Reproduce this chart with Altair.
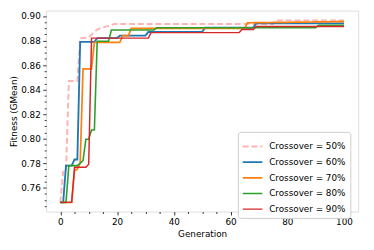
import altair as alt
import pandas as pd

series = ["Crossover = 50%", "Crossover = 60%", "Crossover = 70%",
          "Crossover = 80%", "Crossover = 90%"]
colors = ["#ffb3b3", "#1f77b4", "#ff7f0e", "#2ca02c", "#d62728"]
dashes = [[6, 3], [1, 0], [1, 0], [1, 0], [1, 0]]
widths = [2.0, 1.5, 1.5, 1.5, 1.5]

gen50 = [0, 1, 2, 3, 6, 7, 10, 11, 13, 14, 17, 19, 75, 76, 100]
val50 = [0.748, 0.773, 0.773, 0.847, 0.847, 0.882, 0.8825, 0.885, 0.889, 0.890,
         0.892, 0.8935, 0.8935, 0.8965, 0.8965]

gen60 = [0, 1, 2, 4, 5, 6, 7, 12, 13, 20, 21, 30, 31, 50, 51, 68, 69, 100]
val60 = [0.748, 0.748, 0.778, 0.778, 0.783, 0.783, 0.879, 0.879, 0.882, 0.882,
         0.884, 0.884, 0.887, 0.887, 0.8905, 0.8905, 0.894, 0.894]

gen70 = [0, 4, 5, 6, 7, 8, 11, 12, 21, 22, 24, 25, 65, 66, 100]
val70 = [0.748, 0.748, 0.774, 0.775, 0.780, 0.857, 0.857, 0.8786, 0.8786, 0.884,
         0.884, 0.890, 0.890, 0.8945, 0.8955]

gen80 = [0, 2, 3, 6, 8, 9, 10, 11, 12, 13, 17, 18, 33, 34, 90, 91, 100]
val80 = [0.748, 0.748, 0.778, 0.778, 0.782, 0.7995, 0.7995, 0.807, 0.807, 0.8795,
         0.8795, 0.8886, 0.8886, 0.8905, 0.8905, 0.8925, 0.8925]

gen90 = [0, 4, 5, 9, 10, 11, 31, 32, 63, 64, 68, 69, 100]
val90 = [0.748, 0.748, 0.7766, 0.7766, 0.779, 0.882, 0.882, 0.8865, 0.8865, 0.889,
         0.889, 0.8915, 0.8915]

x_ticks = list(range(0, 101, 5))
y_ticks = [round(0.745 + 0.005 * i, 3) for i in range(32)]

rows = []
for name, gens, vals in zip(series, [gen50, gen60, gen70, gen80, gen90],
                            [val50, val60, val70, val80, val90]):
    for g, v in zip(gens, vals):
        rows.append({"Generation": g, "Fitness": v, "Series": name})
df = pd.DataFrame(rows)
df["idx"] = range(len(df))

FONT = "DejaVu Sans"

x_axis = alt.Axis(
    values=x_ticks, grid=False, domain=False,
    labelExpr="datum.value % 20 === 0 ? datum.label : ''",
    labelOverlap=False, labelFlush=False,
    tickSize={"condition": {"test": "datum.value % 20 === 0", "value": 3.5}, "value": 2},
    tickColor="#000", tickWidth=0.8, labelPadding=2.5, labelFontSize=9,
    labelColor="#000", labelFont=FONT, title="Generation", titleFont=FONT,
    titleFontSize=9, titleFontWeight="normal", titleColor="#000", titlePadding=3,
)
y_axis = alt.Axis(
    values=y_ticks, grid=False, domain=False,
    labelExpr="abs(datum.value*50 - round(datum.value*50)) < 0.001 ? format(datum.value, '.2f') : ''",
    labelOverlap=False, labelFlush=False,
    tickSize={"condition": {"test": "abs(datum.value*50 - round(datum.value*50)) < 0.001", "value": 3.5}, "value": 2},
    tickColor="#000", tickWidth=0.8, labelPadding=2.5, labelFontSize=9,
    labelColor="#000", labelFont=FONT, title="Fitness (GMean)", titleFont=FONT,
    titleFontSize=9, titleFontWeight="normal", titleColor="#000", titlePadding=2.5,
)

legend = alt.Legend(
    title=None, orient="none", legendX=196, legendY=124,
    labelFont=FONT, labelFontSize=9, labelColor="#000",
    symbolType="stroke", symbolSize=400, symbolStrokeWidth=1.8,
    fillColor="#ffffff", strokeColor="#cccccc", cornerRadius=3,
    padding=4, rowPadding=-9, labelOffset=6,
)

chart = alt.Chart(df).mark_line(clip=True).encode(
    x=alt.X("Generation:Q", scale=alt.Scale(domain=[-5, 105], nice=False, zero=False), axis=x_axis),
    y=alt.Y("Fitness:Q", scale=alt.Scale(domain=[0.7405, 0.9045], nice=False, zero=False), axis=y_axis),
    color=alt.Color("Series:N", scale=alt.Scale(domain=series, range=colors), legend=legend),
    strokeDash=alt.StrokeDash("Series:N", scale=alt.Scale(domain=series, range=dashes), legend=legend),
    strokeWidth=alt.StrokeWidth("Series:N", scale=alt.Scale(domain=series, range=widths), legend=None),
    order=alt.Order("idx:Q"),
).properties(
    width=319, height=205.5,
    autosize=alt.AutoSizeParams(type="none"),
    padding={"left": 39, "top": 0, "right": 8, "bottom": 28},
).configure_view(
    stroke="#222", strokeWidth=1
).configure(background="white")

chart.save("out.html", embed_options={"renderer": "svg", "actions": False})
